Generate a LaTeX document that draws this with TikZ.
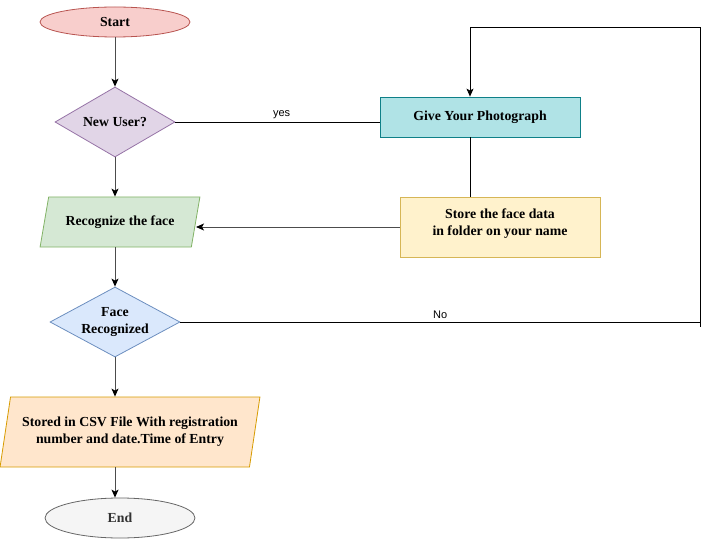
\documentclass[tikz,border=0pt]{standalone}
\usepackage{fontspec}
\setmainfont{Liberation Serif}
\newfontfamily\labelfont{Liberation Sans}
\usepackage{tikz}
\usetikzlibrary{shapes.geometric,positioning,arrows.meta}
\definecolor{startfill}{HTML}{F8CECC}
\definecolor{startline}{HTML}{B85450}
\definecolor{userfill}{HTML}{E1D5E7}
\definecolor{userline}{HTML}{9673A6}
\definecolor{photofill}{HTML}{B0E3E6}
\definecolor{photoline}{HTML}{0E8088}
\definecolor{storefill}{HTML}{FFF2CC}
\definecolor{storeline}{HTML}{D6B656}
\definecolor{recfill}{HTML}{D5E8D4}
\definecolor{recline}{HTML}{82B366}
\definecolor{facefill}{HTML}{DAE8FC}
\definecolor{faceline}{HTML}{6C8EBF}
\definecolor{csvfill}{HTML}{FFE6CC}
\definecolor{csvline}{HTML}{D79B00}
\definecolor{endfill}{HTML}{F5F5F5}
\definecolor{endline}{HTML}{666666}
\tikzset{%
  every box/.style={
    draw,
    line width=0.8pt,
    align=center,
    font=\bfseries\fontsize{13.8}{17}\selectfont
  },
  terminal/.style={every box, ellipse, minimum width=150pt, minimum height=30pt, inner sep=0pt},
  decision/.style={every box, diamond, aspect=1.7, minimum width=120pt, minimum height=70pt, inner sep=0pt},
  process/.style={every box, rectangle, minimum width=200pt, minimum height=40pt},
  io/.style={every box, trapezium, trapezium stretches=true, inner sep=2pt},
  link/.style={black!70, line width=1pt},
  plain link/.style={black, line width=0.7pt},
  edge label/.style={font=\labelfont\fontsize{11}{13}\selectfont},
}

\begin{document}
\begin{tikzpicture}[> = {Stealth[black, length=8pt, width=7pt, inset=2pt]}, x=1pt, y=-1pt]
\useasboundingbox (0,0) rectangle (709,540);
    \node[terminal, fill=startfill, draw=startline] (start) at (115,22) {Start};
    \node[decision, fill=userfill, draw=userline] (nu) at (115,122) {New User?};
    \node[process, fill=photofill, draw=photoline] (photo) at (480,117) {Give Your Photograph};
    \node[process, fill=storefill, draw=storeline, minimum height=60pt] (store) at (500,227) {Store the face data\\in folder on your name\\[-8pt]};
    \node[io, fill=recfill, draw=recline, minimum width=160pt, minimum height=50pt,
          trapezium left angle=68, trapezium right angle=112] (rec) at (120,222) {Recognize the face};
    \node[decision, fill=facefill, draw=faceline, aspect=1.86, minimum width=130pt] (fr) at (115,322) {Face\\Recognized};
    \node[io, fill=csvfill, draw=csvline, minimum width=260pt, minimum height=70pt,
          trapezium left angle=74, trapezium right angle=106] (csv) at (130,432) {Stored in CSV File With registration\\number and date.Time of Entry};
    \node[terminal, fill=endfill, draw=endline, minimum height=40pt, text=black!80] (end) at (120,518) {End};

    \coordinate (rt) at (700,322);
    \coordinate (tp) at (470,27);

    % main flow
    \draw[link, ->] (start.south) -- (nu.north);
    \draw[link, ->] (nu.south) -- (nu.south |- rec.north);
    \draw[link, ->] (rec.south -| fr.north) -- (fr.north);
    \draw[link, ->] (fr.south) -- (fr.south |- csv.north);
    \draw[link, ->] (csv.south -| fr.south) -- (end.north -| fr.south);

    % new user branch
    \draw[plain link] (nu.east) -- node[edge label, above, pos=0.52] {yes} (nu.east -| photo.west);
    \draw[plain link] ([xshift=-10pt]photo.south) -- ([xshift=-30pt]store.north);
    \draw[link, ->] (store.west) -- (store.west -| rec.east);

    % not recognized
    \draw[plain link, ->] (fr.east) -- node[edge label, above, pos=0.5] {No} (rt) |- (tp) -- ([xshift=-10pt]photo.north);
    \draw[plain link] (rt) -- ++(0,5);
\end{tikzpicture}
\end{document}
